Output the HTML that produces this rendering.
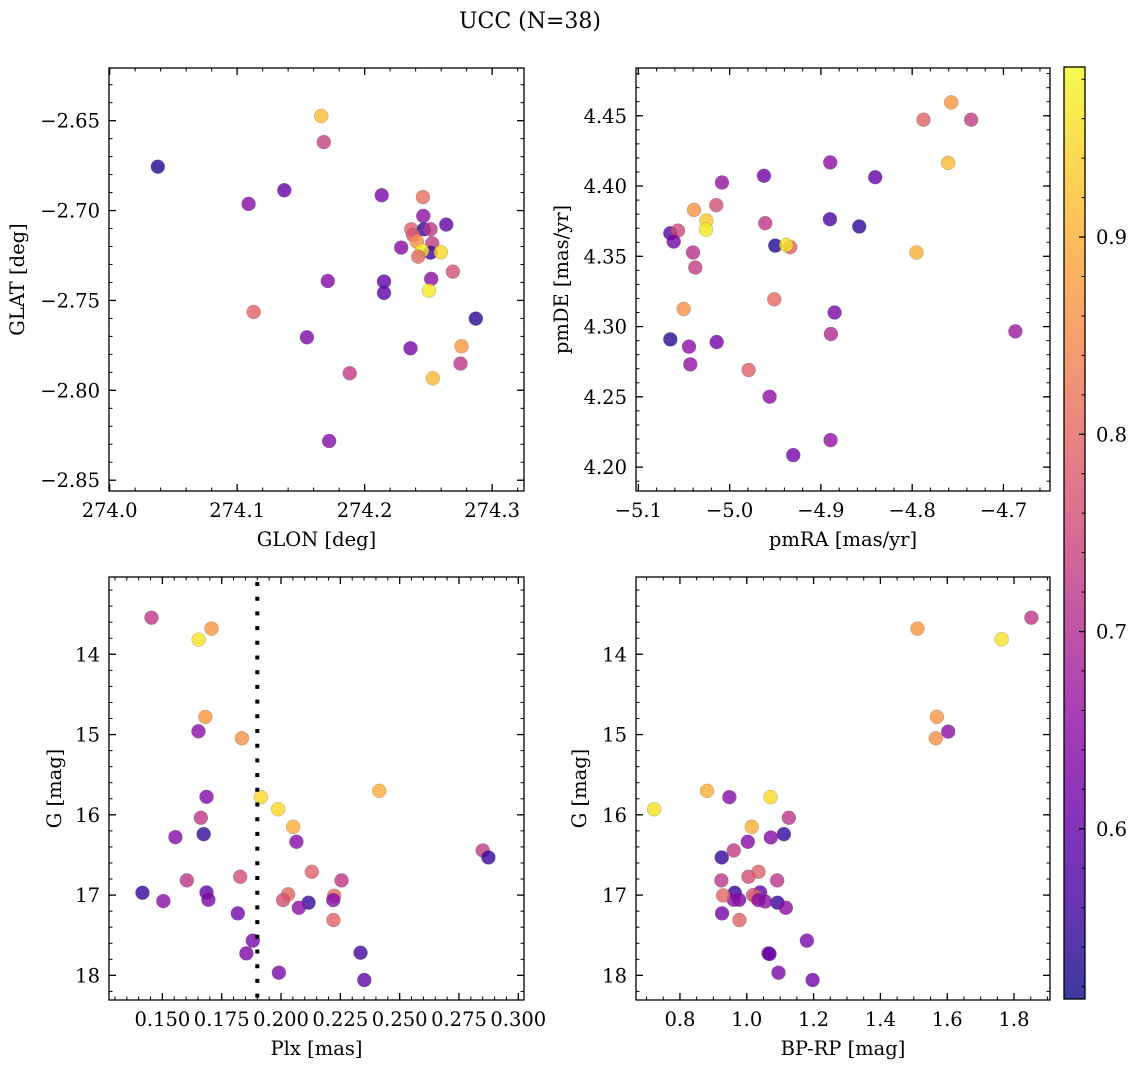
<!DOCTYPE html>
<html><head><meta charset="utf-8"><style>
html,body{margin:0;padding:0;background:#fff;}
svg{display:block;font-family:"DejaVu Serif","Liberation Serif",serif;}
</style></head><body>
<svg id="fig" width="1136" height="1067" viewBox="0 0 1136 1067" xmlns="http://www.w3.org/2000/svg">
<defs>
<linearGradient id="plasmaGrad" x1="0" y1="1" x2="0" y2="0">
<stop offset="0" stop-color="#0d0887"/><stop offset="0.1" stop-color="#41049d"/><stop offset="0.2" stop-color="#6a00a8"/><stop offset="0.3" stop-color="#8f0da4"/><stop offset="0.4" stop-color="#b12a90"/><stop offset="0.5" stop-color="#cc4778"/><stop offset="0.6" stop-color="#e16462"/><stop offset="0.7" stop-color="#f2844b"/><stop offset="0.8" stop-color="#fca636"/><stop offset="0.9" stop-color="#fcce25"/><stop offset="1" stop-color="#f0f921"/>
</linearGradient>
</defs>
<text x="530" y="28" font-size="22" text-anchor="middle">UCC (N=38)</text>
</svg>
<script>
// ---- data: top-left (GLON/GLAT) ----
const glonTL = [274.0378,274.166,274.168,274.137,274.109,274.2134,274.2457,274.246,274.264,274.2366,274.2465,274.2517,274.238,274.241,274.253,274.2287,274.2517,274.245,274.2598,274.242,274.2692,274.2522,274.1711,274.2152,274.2152,274.2504,274.113,274.2872,274.1547,274.236,274.276,274.2752,274.1883,274.2535,274.1722];
const glatTL = [-2.6756,-2.6474,-2.6619,-2.6887,-2.6963,-2.6915,-2.6925,-2.703,-2.7078,-2.7104,-2.7104,-2.7104,-2.7136,-2.7173,-2.7182,-2.7206,-2.7234,-2.7223,-2.7232,-2.7256,-2.734,-2.738,-2.7392,-2.7395,-2.7458,-2.7445,-2.7564,-2.7601,-2.7705,-2.7766,-2.7755,-2.7851,-2.7905,-2.7933,-2.8282];
const probTL = [0.53,0.92,0.74,0.6,0.64,0.63,0.81,0.65,0.6,0.79,0.55,0.72,0.77,0.86,0.73,0.64,0.56,0.97,0.95,0.8,0.76,0.65,0.64,0.6,0.59,0.97,0.79,0.54,0.63,0.62,0.87,0.72,0.73,0.91,0.64];
// ---- data: top-right (pmRA/pmDE) ----
const pmraTR = [-4.7573,-4.7876,-4.7354,-4.8898,-4.7606,-4.9624,-4.8405,-5.0084,-5.0146,-5.039,-5.0255,-4.961,-4.8901,-5.065,-5.0566,-5.0613,-5.0259,-4.858,-4.95,-4.9336,-4.938,-5.0401,-5.0376,-4.7953,-5.0504,-4.9511,-4.885,-5.065,-5.0142,-4.889,-4.6869,-5.0445,-5.0431,-4.9792,-4.9562,-4.8894,-4.9303];
const pmdeTR = [4.4595,4.4472,4.4472,4.4168,4.4165,4.4073,4.4063,4.4025,4.3864,4.383,4.3754,4.3736,4.3764,4.3664,4.3683,4.3605,4.369,4.3712,4.3576,4.3565,4.3581,4.3527,4.342,4.3527,4.3125,4.3194,4.31,4.2909,4.289,4.2947,4.2966,4.2857,4.2731,4.2691,4.2501,4.2192,4.2085];
const probTR = [0.87,0.79,0.73,0.65,0.91,0.62,0.6,0.66,0.76,0.86,0.93,0.72,0.57,0.58,0.75,0.62,0.97,0.54,0.53,0.79,0.96,0.71,0.73,0.9,0.86,0.8,0.63,0.54,0.62,0.7,0.67,0.65,0.66,0.79,0.65,0.66,0.62];
// ---- data: bottom-left (Plx/G) ----
const plxBL = [0.1454,0.1707,0.1653,0.1681,0.1652,0.1835,0.1686,0.1915,0.1988,0.2414,0.1662,0.2051,0.1674,0.1555,0.2065,0.285,0.2874,0.213,0.1828,0.1603,0.2255,0.1416,0.1686,0.1694,0.1504,0.203,0.2009,0.2224,0.222,0.2116,0.2075,0.1818,0.2221,0.1881,0.1854,0.2335,0.1991,0.2351];
const gBL = [13.544,13.68,13.817,14.78,14.959,15.046,15.776,15.78,15.93,15.701,16.037,16.149,16.241,16.278,16.336,16.444,16.531,16.71,16.772,16.817,16.817,16.971,16.967,17.058,17.075,16.99,17.062,17.008,17.062,17.095,17.158,17.228,17.311,17.568,17.726,17.718,17.967,18.058];
const probBL = [0.72,0.87,0.96,0.87,0.65,0.86,0.64,0.95,0.95,0.9,0.72,0.9,0.55,0.64,0.64,0.73,0.55,0.79,0.76,0.72,0.72,0.55,0.6,0.63,0.65,0.8,0.76,0.8,0.64,0.55,0.65,0.62,0.79,0.63,0.63,0.57,0.63,0.59];
const plxCut = [0.19];
// ---- data: bottom-right (BP-RP/G) ----
const bprpBR = [1.852,1.511,1.763,1.569,1.603,1.566,0.881,0.948,1.071,0.723,1.126,1.015,1.111,1.072,1.003,0.961,0.925,1.035,1.005,0.924,1.091,0.964,1.04,0.977,0.961,0.929,1.019,1.028,1.035,1.092,1.117,0.926,0.978,1.18,1.065,1.068,1.095,1.197,1.055];
const gBR = [13.544,13.68,13.813,14.78,14.963,15.046,15.701,15.78,15.78,15.93,16.037,16.149,16.241,16.282,16.336,16.444,16.531,16.71,16.772,16.817,16.817,16.971,16.967,17.058,17.058,17.004,17.0,17.029,17.062,17.095,17.158,17.228,17.311,17.568,17.726,17.734,17.967,18.058,17.08];
const probBR = [0.72,0.87,0.96,0.87,0.65,0.86,0.9,0.64,0.95,0.96,0.72,0.9,0.55,0.64,0.64,0.73,0.55,0.79,0.76,0.72,0.72,0.55,0.6,0.63,0.65,0.8,0.76,0.8,0.64,0.55,0.65,0.62,0.79,0.63,0.63,0.6,0.63,0.62,0.65];
// ---- colorbar ----
const cbarTicks = [0.6,0.7,0.8,0.9];
const vmin = 0.5137, vmax = 0.9862;

const NS = "http://www.w3.org/2000/svg";
const svg = document.getElementById('fig');
const FS = 19.5;
const stops = [[13,8,135],[65,4,157],[106,0,168],[143,13,164],[177,42,144],[204,71,120],[225,100,98],[242,132,75],[252,166,54],[252,206,37],[240,249,33]];
function plasma(t){t=Math.max(0,Math.min(1,t));const f=t*10;const i=Math.min(9,Math.floor(f));const u=f-i;const a=stops[i],b=stops[i+1];return 'rgb('+a.map((v,k)=>Math.round(v+(b[k]-v)*u)).join(',')+')';}
function el(tag,attrs,parent){const e=document.createElementNS(NS,tag);for(const k in attrs)e.setAttribute(k,attrs[k]);(parent||svg).appendChild(e);return e;}
function fmt(v,d){const s=Math.abs(v).toFixed(d);return (v<-1e-9?'\u2212':'')+s;}

function panel(o){
  const g=el('g',{});
  
  
  const sx=v=>o.l+(v-o.x0)/(o.x1-o.x0)*(o.r-o.l);
  const sy=o.inv?(v=>o.t+(v-o.y0)/(o.y1-o.y0)*(o.b-o.t)):(v=>o.b-(v-o.y0)/(o.y1-o.y0)*(o.b-o.t));
  for(let i=0;i<o.xs.length;i++){
    const c=el('circle',{cx:sx(o.xs[i]),cy:sy(o.ys[i]),r:7,fill:plasma((o.ps[i]-vmin)/(vmax-vmin)),'fill-opacity':0.8,stroke:'#666','stroke-opacity':0.5,'stroke-width':0.5},g);
    
    
  }
  if(o.vline){for(const v of o.vline){const ln=el('line',{x1:sx(v),x2:sx(v),y1:o.t+5,y2:o.b,stroke:'#000','stroke-width':4,'stroke-dasharray':'4 10.7'},g);
    
    }}
  const fr=el('rect',{x:o.l,y:o.t,width:o.r-o.l,height:o.b-o.t,fill:'none',stroke:'#000','stroke-width':1.3},g);
  
  
  const eps=1e-9;
  for(let k=Math.ceil((o.x0-eps)/o.xmin);k*o.xmin<=o.x1+eps;k++){const v=k*o.xmin;const x=sx(v);
    el('line',{x1:x,x2:x,y1:o.b,y2:o.b-3.5,stroke:'#000','stroke-width':1},g);el('line',{x1:x,x2:x,y1:o.t,y2:o.t+3.5,stroke:'#000','stroke-width':1},g);}
  for(const v of o.xmaj){const x=sx(v);
    el('line',{x1:x,x2:x,y1:o.b,y2:o.b-7,stroke:'#000','stroke-width':1.3},g);el('line',{x1:x,x2:x,y1:o.t,y2:o.t+7,stroke:'#000','stroke-width':1.3},g);
    const t=el('text',{x:x,y:o.b+26,'font-size':FS,'text-anchor':'middle'},g);t.textContent=fmt(v,o.xd);
    
    }
  for(let k=Math.ceil((o.y0-eps)/o.ymin);k*o.ymin<=o.y1+eps;k++){const v=k*o.ymin;const y=sy(v);
    el('line',{x1:o.l,x2:o.l+3.5,y1:y,y2:y,stroke:'#000','stroke-width':1},g);el('line',{x1:o.r,x2:o.r-3.5,y1:y,y2:y,stroke:'#000','stroke-width':1},g);}
  for(const v of o.ymaj){const y=sy(v);
    el('line',{x1:o.l,x2:o.l+7,y1:y,y2:y,stroke:'#000','stroke-width':1.3},g);el('line',{x1:o.r,x2:o.r-7,y1:y,y2:y,stroke:'#000','stroke-width':1.3},g);
    const t=el('text',{x:o.l-9,y:y+7,'font-size':FS,'text-anchor':'end'},g);t.textContent=fmt(v,o.yd);
    
    }
  const xl=el('text',{x:(o.l+o.r)/2,y:o.b+55,'font-size':FS,'text-anchor':'middle'},g);xl.textContent=o.xlab;
  
  
  const yl=el('text',{x:0,y:0,'font-size':FS,'text-anchor':'middle',transform:'translate('+o.ylx+','+((o.t+o.b)/2)+') rotate(-90)'},g);yl.textContent=o.ylab;
  
  
}
const rng=(a,b,s)=>{const r=[];for(let v=a;v<=b+1e-9;v+=s)r.push(+v.toFixed(6));return r;};

panel({name:'glon-glat-panel',l:109,t:68,r:524,b:491,x0:273.9995,x1:274.325,y0:-2.856,y1:-2.6207,xs:glonTL,ys:glatTL,ps:probTL,
  xmaj:rng(274.0,274.3,0.1),xmin:0.02,xd:1,ymaj:rng(-2.85,-2.65,0.05),ymin:0.01,yd:2,xlab:'GLON [deg]',ylab:'GLAT [deg]',ylx:24});
panel({name:'pm-panel',l:636,t:68,r:1050,b:491,x0:-5.1026,x1:-4.649,y0:4.183,y1:4.484,xs:pmraTR,ys:pmdeTR,ps:probTR,
  xmaj:rng(-5.1,-4.7,0.1),xmin:0.02,xd:1,ymaj:rng(4.20,4.45,0.05),ymin:0.01,yd:2,xlab:'pmRA [mas/yr]',ylab:'pmDE [mas/yr]',ylx:568});
panel({name:'plx-g-panel',l:109,t:577,r:524,b:1000,x0:0.1275,x1:0.3024,y0:13.037,y1:18.307,inv:true,xs:plxBL,ys:gBL,ps:probBL,vline:plxCut,
  xmaj:rng(0.15,0.30,0.025),xmin:0.005,xd:3,ymaj:rng(14,18,1),ymin:0.2,yd:0,xlab:'Plx [mas]',ylab:'G [mag]',ylx:61});
panel({name:'cmd-panel',l:636,t:577,r:1050,b:1000,x0:0.6684,x1:1.9077,y0:13.037,y1:18.307,inv:true,xs:bprpBR,ys:gBR,ps:probBR,
  xmaj:rng(0.8,1.8,0.2),xmin:0.05,xd:1,ymaj:rng(14,18,1),ymin:0.2,yd:0,xlab:'BP-RP [mag]',ylab:'G [mag]',ylx:586});

const cb=el('g',{});


const cL=1064,cR=1085,cT=67,cB=999;
el('rect',{x:cL,y:cT,width:cR-cL,height:cB-cT,fill:'url(#plasmaGrad)','fill-opacity':0.8},cb);
el('rect',{x:cL,y:cT,width:cR-cL,height:cB-cT,fill:'none',stroke:'#000','stroke-width':1.3},cb);
const cy=v=>cB-(v-vmin)/(vmax-vmin)*(cB-cT);
for(let k=Math.ceil(vmin/0.02);k*0.02<=vmax;k++){const y=cy(k*0.02);el('line',{x1:cR,x2:cR-3.5,y1:y,y2:y,stroke:'#000','stroke-width':1},cb);}
for(const v of cbarTicks){const y=cy(v);el('line',{x1:cR,x2:cR-6,y1:y,y2:y,stroke:'#000','stroke-width':1.3},cb);
  const t=el('text',{x:1096,y:y+7,'font-size':FS},cb);t.textContent=v.toFixed(1);
  
  }
</script>
</body></html>
